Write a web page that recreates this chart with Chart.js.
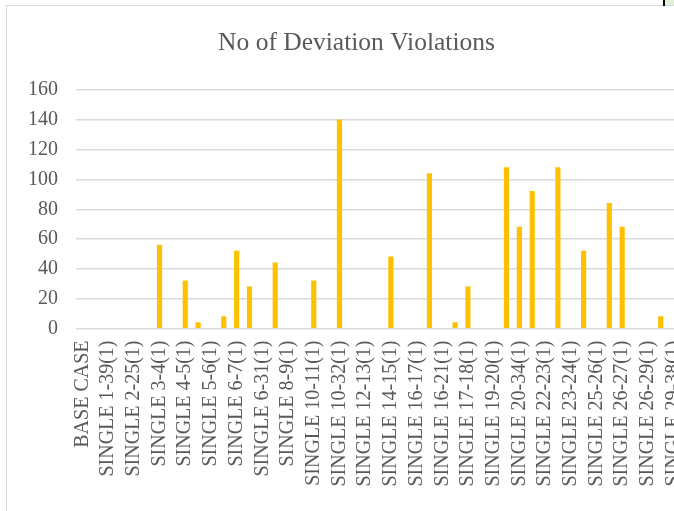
<!DOCTYPE html>
<html>
<head>
<meta charset="utf-8">
<script src="https://cdn.jsdelivr.net/npm/chart.js@4"></script>
<style>
  html, body { margin: 0; padding: 0; background: #ffffff; overflow: hidden; width: 674px; height: 511px; }
  #frame { position: absolute; left: 6px; top: 5px; width: 720px; height: 520px; border-left: 1.5px solid #d9d9d9; border-top: 1.5px solid #d9d9d9; }
  #wrap { position: absolute; left: 0; top: 0; width: 713px; height: 511px; }
  #mark { position: absolute; left: 663px; top: 0; width: 2px; height: 6px; background: #000; }
  #green { position: absolute; left: 665px; top: 0; width: 12px; height: 5px; background: #e2f0d9; }
</style>
</head>
<body>
<div id="frame"></div>
<div id="wrap"><canvas id="c" width="713" height="511"></canvas></div>
<div id="green"></div>
<div id="mark"></div>
<script>
const chartTitle = "No of Deviation Violations";
const categories = [
  "BASE CASE", "SINGLE 1-2(1)", "SINGLE 1-39(1)", "SINGLE 2-3(1)", "SINGLE 2-25(1)", "SINGLE 2-30(1)",
  "SINGLE 3-4(1)", "SINGLE 3-18(1)", "SINGLE 4-5(1)", "SINGLE 4-14(1)", "SINGLE 5-6(1)", "SINGLE 5-8(1)",
  "SINGLE 6-7(1)", "SINGLE 6-11(1)", "SINGLE 6-31(1)", "SINGLE 7-8(1)", "SINGLE 8-9(1)", "SINGLE 9-39(1)",
  "SINGLE 10-11(1)", "SINGLE 10-13(1)", "SINGLE 10-32(1)", "SINGLE 11-12(1)", "SINGLE 12-13(1)", "SINGLE 13-14(1)",
  "SINGLE 14-15(1)", "SINGLE 15-16(1)", "SINGLE 16-17(1)", "SINGLE 16-19(1)", "SINGLE 16-21(1)", "SINGLE 16-24(1)",
  "SINGLE 17-18(1)", "SINGLE 17-27(1)", "SINGLE 19-20(1)", "SINGLE 19-33(1)", "SINGLE 20-34(1)", "SINGLE 21-22(1)",
  "SINGLE 22-23(1)", "SINGLE 22-35(1)", "SINGLE 23-24(1)", "SINGLE 23-36(1)", "SINGLE 25-26(1)", "SINGLE 25-37(1)",
  "SINGLE 26-27(1)", "SINGLE 26-28(1)", "SINGLE 26-29(1)", "SINGLE 28-29(1)", "SINGLE 29-38(1)"
];
const violations = [
  0, 0, 0, 0, 0, 0,
  56, 0, 32, 4, 0, 8,
  52, 28, 0, 44, 0, 0,
  32, 0, 140, 0, 0, 0,
  48, 0, 0, 104, 0, 4,
  28, 0, 0, 108, 68, 92,
  0, 108, 0, 52, 0, 84,
  68, 0, 0, 8, 0
];
const yTicks = [0, 20, 40, 60, 80, 100, 120, 140, 160];

const serif = "'Liberation Serif', 'Times New Roman', serif";
const textColor = "#595959";

// centre the title over the (partly cropped) Excel chart area
const titleShift = {
  id: "titleShift",
  afterLayout(chart) {
    if (chart.titleBlock) {
      chart.titleBlock.left = 33;
      chart.titleBlock.right = 680;
    }
  }
};

new Chart(document.getElementById("c"), {
  type: "bar",
  data: {
    labels: categories,
    datasets: [{
      label: chartTitle,
      data: violations,
      backgroundColor: (ctx) => (ctx.raw ? "#ffc000" : "rgba(0,0,0,0)"),
      borderWidth: 0,
      barThickness: 4.5
    }]
  },
  plugins: [titleShift],
  options: {
    responsive: false,
    animation: false,
    layout: { padding: { left: 0, right: 33, top: 0, bottom: 0 } },
    plugins: {
      legend: { display: false },
      tooltip: { enabled: false },
      title: {
        display: true,
        text: chartTitle,
        color: textColor,
        font: { family: serif, size: 25.5, weight: "normal", lineHeight: 1.2 },
        padding: { top: 28, bottom: 31.4 }
      }
    },
    scales: {
      x: {
        grid: { display: false, drawTicks: false },
        border: { display: false },
        ticks: {
          autoSkip: false,
          maxRotation: 90,
          minRotation: 90,
          padding: 12,
          color: textColor,
          font: { family: serif, size: 20 },
          callback: function (v, i) { return i % 2 === 0 ? categories[i] : ""; }
        },
        afterFit: function (s) { s.height = 182.5; }
      },
      y: {
        min: yTicks[0],
        max: yTicks[yTicks.length - 1],
        grid: { color: "#d9d9d9", lineWidth: 1.5, drawTicks: false },
        border: { display: false },
        ticks: {
          stepSize: yTicks[1] - yTicks[0],
          padding: 18,
          color: textColor,
          font: { family: serif, size: 20 }
        },
        afterFit: function (s) { s.width = 76; }
      }
    }
  }
});
</script>
</body>
</html>
